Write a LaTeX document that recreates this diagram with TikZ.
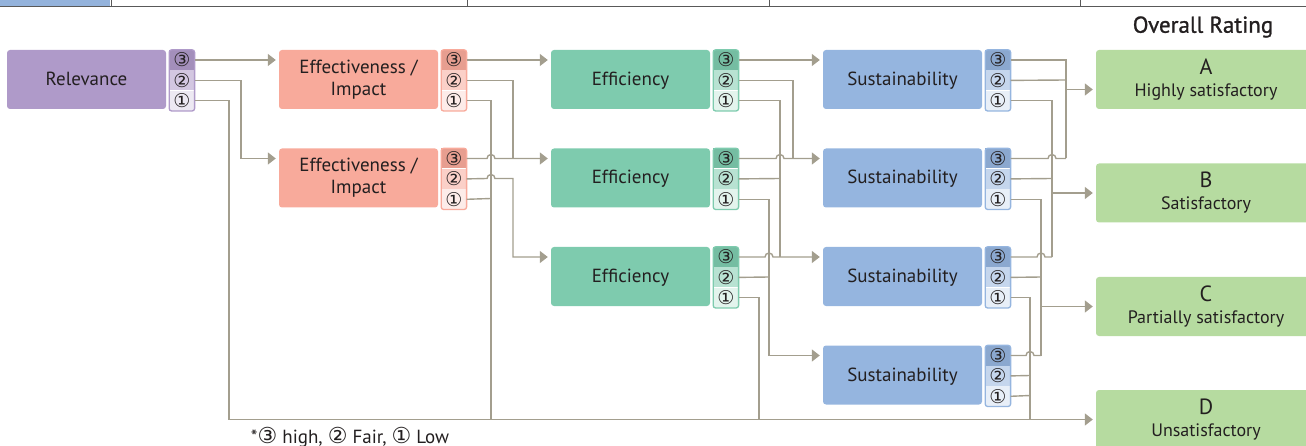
\documentclass[tikz,border=0pt]{standalone}
\usepackage{fontspec}
\setmainfont{PT Sans}
\newfontfamily\circfont{DejaVu Sans}
\newfontfamily\headfont[FakeBold=1]{PT Sans}
\usetikzlibrary{arrows.meta, positioning}

\definecolor{relC}{HTML}{AF9AC9}
\definecolor{effC}{HTML}{F8AA9B}
\definecolor{ficC}{HTML}{7ECBAE}
\definecolor{susC}{HTML}{95B5DF}
\definecolor{rateC}{HTML}{B6DBA0}
\definecolor{lineC}{HTML}{A39E8E}
\definecolor{textC}{HTML}{231F20}
\definecolor{topC}{HTML}{94B3DC}

\tikzset{
  stage/.style={rectangle, rounded corners=3pt, minimum width=159pt, minimum height=59pt,
    inner sep=0pt, align=center, text=textC, font=\fontsize{19}{22}\selectfont},
  oneline/.style={text height=15pt, text depth=3pt},
  rate/.style={rectangle, rounded corners=3pt, fill=rateC, minimum width=220pt,
    minimum height=59pt, inner sep=0pt, align=center, text=textC,
    font=\fontsize{18}{22}\selectfont},
  cell/.style={rectangle, minimum width=25pt, minimum height=20pt, inner sep=0pt,
    text=textC, font=\circfont\fontsize{19}{19}\selectfont},
  link/.style={draw=lineC, line width=1.4pt},
  arr/.style={link, -{Triangle[length=8pt,width=12pt]}, shorten >=3pt}
}

% three score cells beside a stage box
\newcommand{\scorecol}[2]{%
  \node[cell, fill=#2!93!black, anchor=north west] (#1-3) at ([xshift=3pt]#1.north east) {③};
  \node[cell, fill=#2!55!white, below=0pt of #1-3] (#1-2) {②};
  \node[cell, fill=#2!22!white, below=0pt of #1-2] (#1-1) {①};
  \draw[#2, line width=1.3pt, rounded corners=2.5pt] (#1-3.north west) rectangle (#1-1.south east);
}
\newcommand{\circnum}[1]{{\circfont\fontsize{22}{22}\selectfont #1}}

\begin{document}
\begin{tikzpicture}[x=1pt, y=-1pt]
\useasboundingbox (0,0) rectangle (1306,446);

% cut-off table edge at the top
\fill[topC] (0,0) rectangle (110,6);
\draw[black!65, line width=1pt] (0,6.5) -- (1306,6.5);
\draw[black!65, line width=1pt] (111,0) -- (111,6.5) (467,0) -- (467,6.5)
  (769,0) -- (769,6.5) (1080,0) -- (1080,6.5);

% stages
\node[stage, oneline, fill=relC] (r) at (86.5,79.5) {Relevance};
\node[stage, fill=effC] (e1) at (358.5,79.5) {Effectiveness /\\Impact};
\node[stage, fill=effC] (e2) at (358.5,178) {Effectiveness /\\Impact};
\node[stage, oneline, fill=ficC] (f1) at (630.5,79.5) {Efficiency};
\node[stage, oneline, fill=ficC] (f2) at (630.5,178) {Efficiency};
\node[stage, oneline, fill=ficC] (f3) at (630.5,276.5) {Efficiency};
\node[stage, oneline, fill=susC] (s1) at (902.5,79.5) {Sustainability};
\node[stage, oneline, fill=susC] (s2) at (902.5,178) {Sustainability};
\node[stage, oneline, fill=susC] (s3) at (902.5,276.5) {Sustainability};
\node[stage, oneline, fill=susC] (s4) at (902.5,375) {Sustainability};

\scorecol{r}{relC}
\scorecol{e1}{effC}
\scorecol{e2}{effC}
\scorecol{f1}{ficC}
\scorecol{f2}{ficC}
\scorecol{f3}{ficC}
\scorecol{s1}{susC}
\scorecol{s2}{susC}
\scorecol{s3}{susC}
\scorecol{s4}{susC}

% overall rating
\node[text=textC, font=\headfont\fontsize{23}{25}\selectfont] (title) at (1203,27) {Overall Rating};
\node[rate] (gA) at (1206,79.5) {{\fontsize{22}{22}\selectfont A}\\Highly satisfactory};
\node[rate] (gB) at (1206,193) {{\fontsize{22}{22}\selectfont B}\\Satisfactory};
\node[rate] (gC) at (1206,306.5) {{\fontsize{22}{22}\selectfont C}\\Partially satisfactory};
\node[rate] (gD) at (1206,419.5) {{\fontsize{22}{22}\selectfont D}\\Unsatisfactory};

\coordinate (jA) at (1066,89.5);
\coordinate (jB) at (1052,193);
\coordinate (jC) at (1041,306.5);

% relevance
\draw[arr] (r-3.east) -- (r-3 -| e1.west);
\draw[arr] (r-2.east) -| (241,158.5) -- (e2-3 -| e2.west);
\draw[arr] (r-1.east) -| (229,419.5) -- (gD.west);

% effectiveness / impact
\draw[arr] (e1-3.east) -- (e1-3 -| f1.west);
\draw[link] (e1-2.east) -| (513,158.5);
\draw[link] (e1-1.east) -| (491,419.5);
\draw[arr] (e2-3.east) -- (487,158.5) arc[start angle=180, end angle=360, radius=4] -- (e2-3 -| f2.west);
\draw[arr] (e2-2.east) -- (487,178.5) arc[start angle=180, end angle=360, radius=4] -- (513,178.5) |- (f3-3 -| f3.west);
\draw[link] (e2-1.east) -- (491,198.5);

% efficiency
\draw[arr] (f1-3.east) -- (f1-3 -| s1.west);
\draw[link] (f1-2.east) -| (793,158.5);
\draw[link] (f1-1.east) -| (780,257);
\draw[arr] (f2-3.east) -- (776,158.5) arc[start angle=180, end angle=360, radius=4] -- (f2-3 -| s2.west);
\draw[link] (f2-2.east) -- (780,178.5);
\draw[arr] (f2-1.east) -| (769,355.5) -- (s4-3 -| s4.west);
\draw[arr] (f3-3.east) -- (765,257) arc[start angle=180, end angle=360, radius=4] -- (f3-3 -| s3.west);
\draw[link] (f3-2.east) -- (769,277);
\draw[link] (f3-1.east) -| (759,419.5);

% sustainability
\draw[link] (s1-3.east) -| (1066,158.5);
\draw[link] (s1-2.east) -- (1066,80);
\draw[link] (s1-1.east) -| (1052,257);
\draw[link] (s2-3.east) -- (1048,158.5) arc[start angle=180, end angle=360, radius=4] -- (1066,158.5);
\draw[link] (s2-2.east) -- (1052,178.5);
\draw[link] (s2-1.east) -| (1041,355.5);
\draw[link] (s3-3.east) -- (1037,257) arc[start angle=180, end angle=360, radius=4] -- (1052,257);
\draw[link] (s3-2.east) -- (1041,277);
\draw[link] (s3-1.east) -| (1030,419.5);
\draw[link] (s4-3.east) -- (1026,355.5) arc[start angle=180, end angle=360, radius=4] -- (1041,355.5);
\draw[link] (s4-2.east) -- (1030,375.5);
\draw[link] (s4-1.east) -- (1030,395.5);

\draw[arr] (jA) -- (jA -| gA.west);
\draw[arr] (jB) -- (gB.west);
\draw[arr] (jC) -- (gC.west);

% key
\node[text=textC, font=\fontsize{19}{21}\selectfont] (key) at (350,437) {*\circnum{③} high, \circnum{②} Fair, \circnum{①} Low};
\end{tikzpicture}
\end{document}
